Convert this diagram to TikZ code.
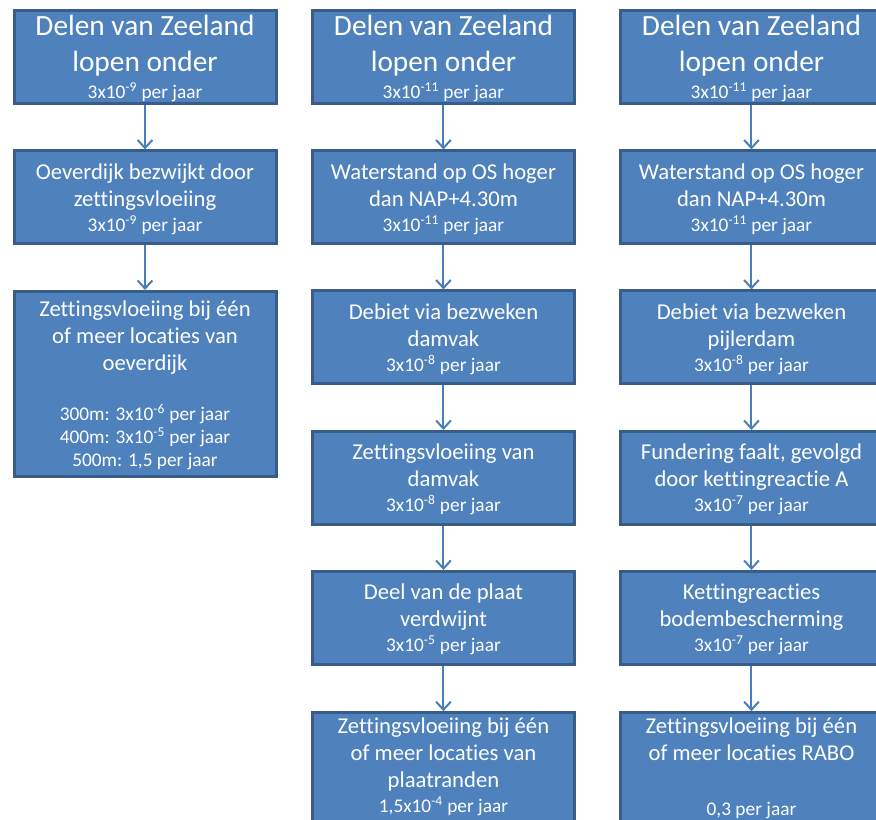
\documentclass[tikz,border=0pt]{standalone}
\usepackage{fontspec}
\setmainfont{Carlito}[Ligatures=NoCommon]
\usepackage{tikz}
\usetikzlibrary{arrows.meta}
\usepackage{color}

\newcommand{\jaar}[1]{{\fontsize{14.5pt}{17.5pt}\selectfont #1 per jaar}}

\begin{document}
\begin{tikzpicture}[%
      x=1pt, y=-1pt,
      blok/.style={draw={rgb,255:red,56;green,93;blue,138}, line width=2.25pt,
        fill={rgb,255:red,79;green,129;blue,189}, text=white, align=center,
        minimum width=196.5pt, minimum height=69.75pt, inner sep=1pt,
        text depth=0pt, font=\fontsize{17pt}{20.25pt}\selectfont},
      kop/.style={blok, font=\fontsize{22pt}{27pt}\selectfont},
      onder/.style={blok, anchor=north, inner ysep=3.5pt, text depth=40pt},
      pijl/.style={draw={rgb,255:red,74;green,126;blue,187}, line width=1.5pt,
        -{Straight Barb[length=6pt,width=11pt]}},
      ]
      \useasboundingbox (0,0) rectangle (657,615);
      \fill[white] (0,0) rectangle (657,615);
      \clip (0,0) rectangle (657,615);

      \node[kop] (a1) at (108.75,42.4) {Delen van Zeeland\\lopen onder\\[-6.75pt]\jaar{3x10\textsuperscript{-9}}};
      \node[blok] (a2) at (108.75,148.1) {Oeverdijk bezwijkt door\\zettingsvloeiing\\[-1.5pt]\jaar{3x10\textsuperscript{-9}}};
      \node[blok, minimum height=138.75pt] (a3) at (108.75,288) {Zettingsvloeiing bij één\\of meer locaties van\\oeverdijk\\[17.25pt]\jaar{300m: 3x10\textsuperscript{-6}}\\[-3pt]\jaar{400m: 3x10\textsuperscript{-5}}\\[-3pt]\jaar{500m: 1,5}};

      \node[kop] (b1) at (332.6,42.4) {Delen van Zeeland\\lopen onder\\[-6.75pt]\jaar{3x10\textsuperscript{-11}}};
      \node[blok] (b2) at (332.6,148.1) {Waterstand op OS hoger\\dan NAP+4.30m\\[-1.5pt]\jaar{3x10\textsuperscript{-11}}};
      \node[blok] (b3) at (332.6,253.1) {Debiet via bezweken\\damvak\\[-1.5pt]\jaar{3x10\textsuperscript{-8}}};
      \node[blok] (b4) at (332.6,358.5) {Zettingsvloeiing van\\damvak\\[-1.5pt]\jaar{3x10\textsuperscript{-8}}};
      \node[blok] (b5) at (332.6,463.5) {Deel van de plaat\\verdwijnt\\[-1.5pt]\jaar{3x10\textsuperscript{-5}}};
      \node[onder] (b6) at (332.6,533.4) {Zettingsvloeiing bij één\\of meer locaties van\\plaatranden\\[-1.5pt]\jaar{1,5x10\textsuperscript{-4}}};

      \node[kop] (c1) at (563.6,42.4) {Delen van Zeeland\\lopen onder\\[-6.75pt]\jaar{3x10\textsuperscript{-11}}};
      \node[blok] (c2) at (563.6,148.1) {Waterstand op OS hoger\\dan NAP+4.30m\\[-1.5pt]\jaar{3x10\textsuperscript{-11}}};
      \node[blok] (c3) at (563.6,253.1) {Debiet via bezweken\\pijlerdam\\[-1.5pt]\jaar{3x10\textsuperscript{-8}}};
      \node[blok] (c4) at (563.6,358.5) {Fundering faalt, gevolgd\\door kettingreactie A\\[-1.5pt]\jaar{3x10\textsuperscript{-7}}};
      \node[blok] (c5) at (563.6,463.5) {Kettingreacties\\bodembescherming\\[-1.5pt]\jaar{3x10\textsuperscript{-7}}};
      \node[onder] (c6) at (563.6,533.4) {Zettingsvloeiing bij één\\of meer locaties RABO\\[21pt]\jaar{0,3}};

      \draw[pijl] (a1) -- (a2);
      \draw[pijl] (a2) -- (a3);
      \draw[pijl] (b1) -- (b2);
      \draw[pijl] (b2) -- (b3);
      \draw[pijl] (b3) -- (b4);
      \draw[pijl] (b4) -- (b5);
      \draw[pijl] (b5) -- (b6);
      \draw[pijl] (c1) -- (c2);
      \draw[pijl] (c2) -- (c3);
      \draw[pijl] (c3) -- (c4);
      \draw[pijl] (c4) -- (c5);
      \draw[pijl] (c5) -- (c6);
\end{tikzpicture}
\end{document}
